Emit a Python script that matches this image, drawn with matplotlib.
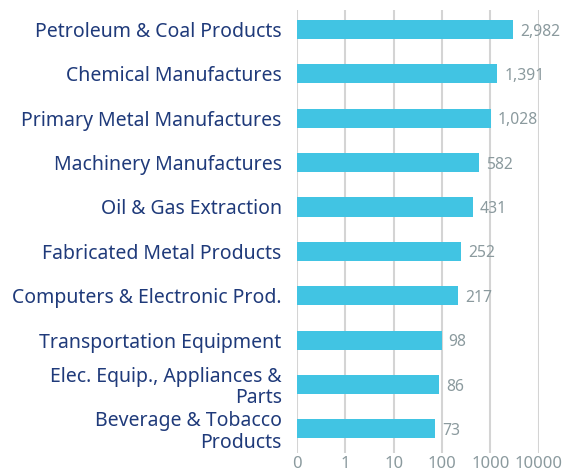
import matplotlib

matplotlib.use('Agg')
import matplotlib.pyplot as plt
from matplotlib.ticker import FixedLocator, FixedFormatter

categories = ["Petroleum & Coal Products", "Chemical Manufactures", "Primary Metal Manufactures",
              "Machinery Manufactures", "Oil & Gas Extraction", "Fabricated Metal Products",
              "Computers & Electronic Prod.", "Transportation Equipment",
              "Elec. Equip., Appliances &\nParts", "Beverage & Tobacco\nProducts"]
values = [2982, 1391, 1028, 582, 431, 252, 217, 98, 86, 73]
tick_values = [0.1, 1, 10, 100, 1000, 10000]
tick_labels = ["0", "1", "10", "100", "1000", "10000"]

BAR = "#41c4e3"
NAVY = "#1f3a7a"
GREY = "#8b9a9e"

plt.rcParams['font.family'] = ['Noto Sans', 'DejaVu Sans']

fig = plt.figure(figsize=(5.63, 4.73), dpi=100)
ax = fig.add_axes([0.5275, 0.0423, 0.4295, 0.9366])

y = list(range(len(categories)))
ax.barh(y, values, height=0.43, color=BAR, left=0.1, zorder=3)
ax.set_xscale('log')
ax.set_xlim(0.1, 10000)
ax.set_ylim(9.545, -0.44)

# value labels just past the bar ends
for yi, v in zip(y, values):
    ax.annotate("{:,}".format(v), (v, yi), xytext=(5, -1.5), textcoords='offset points',
                va='center', ha='left', color=GREY, fontsize=11.3, zorder=4)

ax.set_yticks(y)
ax.set_yticklabels(categories, color=NAVY, fontsize=14, linespacing=1.08)
ax.xaxis.set_major_locator(FixedLocator(tick_values))
ax.xaxis.set_major_formatter(FixedFormatter(tick_labels))
ax.xaxis.set_minor_locator(FixedLocator([]))
ax.tick_params(axis='x', colors=GREY, labelsize=12, length=0, pad=2.5)
ax.tick_params(axis='y', length=0, pad=11)
ax.grid(axis='x', color='#d4d4d4', linewidth=1.5, zorder=0)
for s in ax.spines.values():
    s.set_visible(False)

fig.savefig('out.png', dpi=100)
